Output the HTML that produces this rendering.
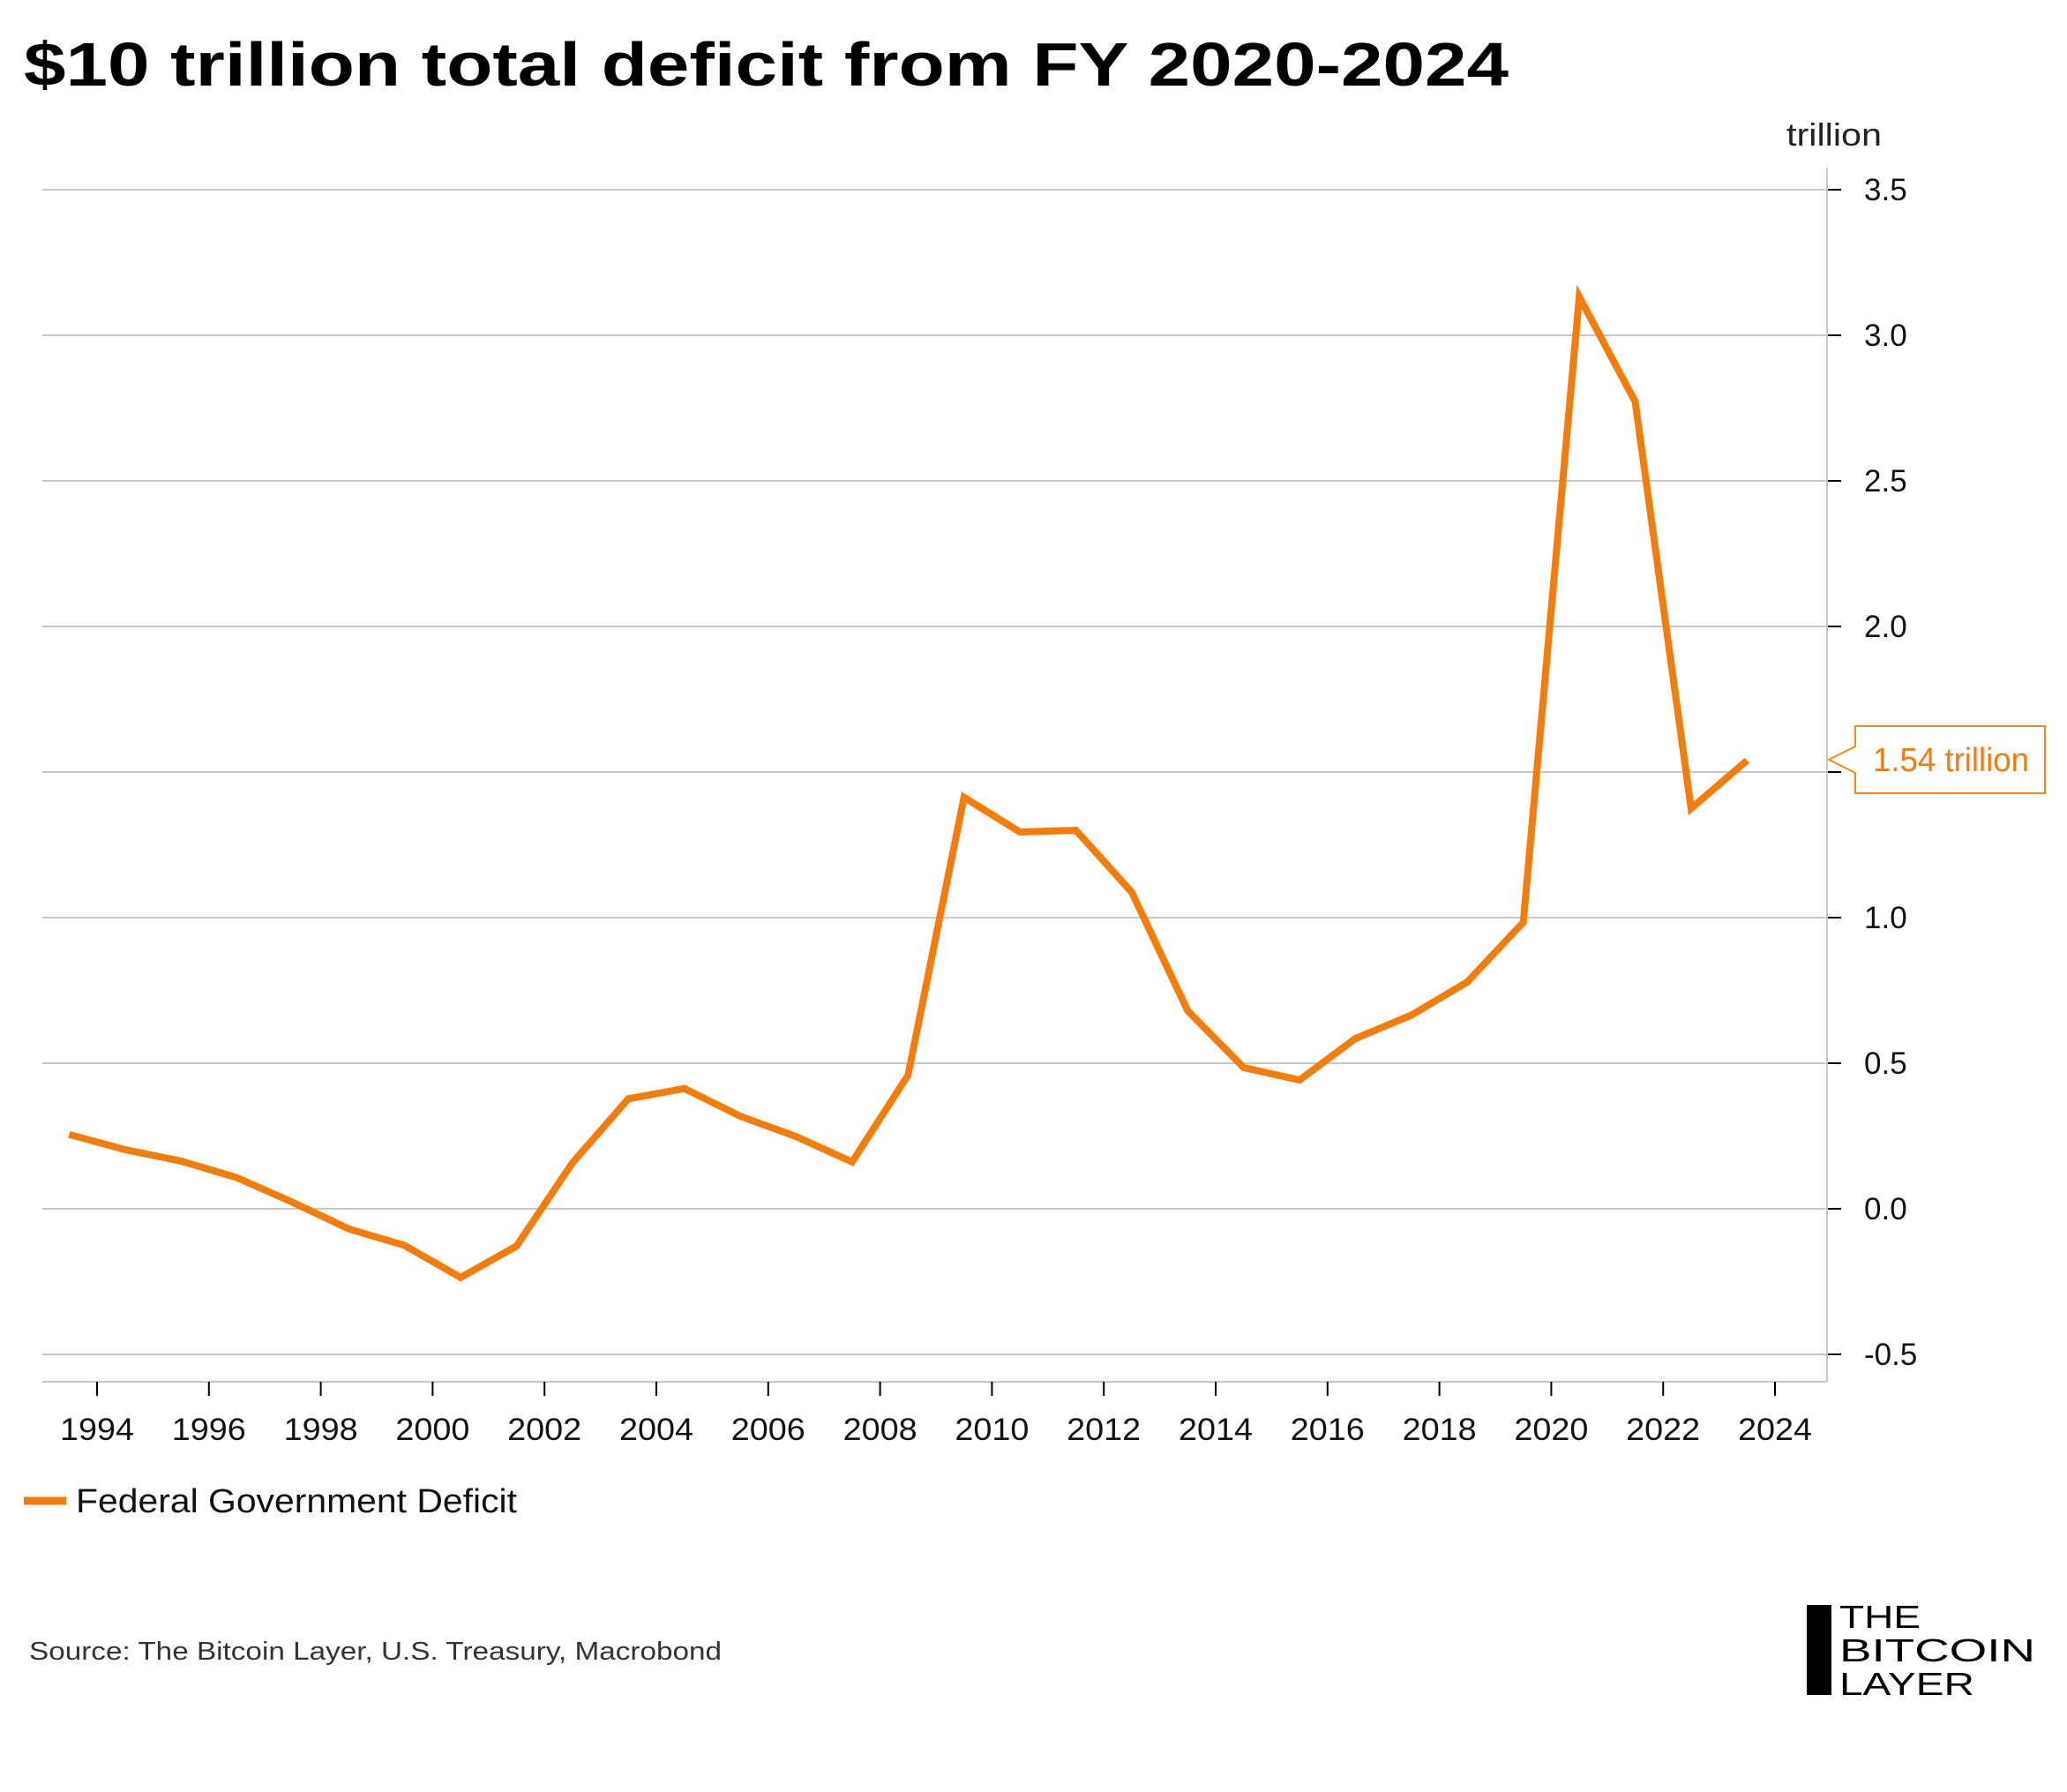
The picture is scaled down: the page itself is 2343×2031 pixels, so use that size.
<!DOCTYPE html>
<html><head><meta charset="utf-8"><style>
html,body{margin:0;padding:0;background:#fff;}
svg{display:block;font-family:"Liberation Sans",sans-serif;}
</style></head><body>
<svg id="chart" width="2343" height="2031" viewBox="0 0 2343 2031" xmlns="http://www.w3.org/2000/svg">
<text x="27" y="97" font-size="70" font-weight="bold" textLength="1683" lengthAdjust="spacingAndGlyphs">$10 trillion total deficit from FY 2020-2024</text>
<text x="2025" y="165" font-size="36" fill="#222" textLength="108" lengthAdjust="spacingAndGlyphs">trillion</text>
<g id="grid"></g>
<g id="xaxis"></g>
<g id="yaxis"></g>
<g id="series"></g>
<g>
<path d="M2103,823 L2318,823 L2318,899 L2103,899 L2103,876 L2073,861 L2103,846 Z" fill="#fff" stroke="#f28a1f" stroke-width="2"/>
<text x="2123" y="874" font-size="38" fill="#f27d0c" textLength="177" lengthAdjust="spacingAndGlyphs">1.54 trillion</text>
</g>
<g>
<line x1="27" y1="1701" x2="75" y2="1701" stroke="#f27d0c" stroke-width="9"/>
<text x="86" y="1714" font-size="38" fill="#111" textLength="500" lengthAdjust="spacingAndGlyphs">Federal Government Deficit</text>
</g>
<text x="33" y="1881" font-size="29" fill="#333" textLength="785" lengthAdjust="spacingAndGlyphs">Source: The Bitcoin Layer, U.S. Treasury, Macrobond</text>
<g>
<rect x="2048" y="1819" width="28" height="102" fill="#000"/>
<text x="2085" y="1845" font-size="36" textLength="92" lengthAdjust="spacingAndGlyphs">THE</text>
<text x="2085" y="1883" font-size="36" textLength="222" lengthAdjust="spacingAndGlyphs">BITCOIN</text>
<text x="2085" y="1921" font-size="36" textLength="153" lengthAdjust="spacingAndGlyphs">LAYER</text>
</g>
</svg>
<script>
const years = [1993.5,1994.5,1995.5,1996.5,1997.5,1998.5,1999.5,2000.5,2001.5,2002.5,2003.5,2004.5,2005.5,2006.5,2007.5,2008.5,2009.5,2010.5,2011.5,2012.5,2013.5,2014.5,2015.5,2016.5,2017.5,2018.5,2019.5,2020.5,2021.5,2022.5,2023.5];
const deficit = [0.255,0.203,0.164,0.107,0.022,-0.069,-0.126,-0.236,-0.128,0.158,0.378,0.413,0.318,0.248,0.161,0.459,1.413,1.294,1.300,1.087,0.680,0.485,0.442,0.585,0.665,0.779,0.984,3.132,2.772,1.375,1.540];
const yTicks = [-0.5,0.0,0.5,1.0,1.5,2.0,2.5,3.0,3.5];
const xTicks = [1994,1996,1998,2000,2002,2004,2006,2008,2010,2012,2014,2016,2018,2020,2022,2024];
const NS="http://www.w3.org/2000/svg";
const L=48, R=2071, B=1566, T=190;
function xs(v){return 110+(v-1994)*63.4;}
function ys(v){return 1370-v*330;}
function mk(tag,attrs,parent){const e=document.createElementNS(NS,tag);for(const k in attrs)e.setAttribute(k,attrs[k]);parent.appendChild(e);return e;}
const grid=document.getElementById('grid'),xa=document.getElementById('xaxis'),ya=document.getElementById('yaxis'),se=document.getElementById('series');
yTicks.forEach(v=>{
  const g=mk('line',{x1:L,x2:R,y1:ys(v),y2:ys(v),stroke:'#c8c8c8','stroke-width':2},grid);
  
  
  const t=mk('line',{x1:R,x2:R+16,y1:ys(v),y2:ys(v),stroke:'#000','stroke-width':2},ya);
  
  
  const lb=mk('text',{x:2113,y:ys(v)+12,'font-size':35,fill:'#111'},ya);
  lb.textContent=v.toFixed(1);
  
  
});
const yl=mk('line',{x1:R,x2:R,y1:T,y2:B,stroke:'#c8c8c8','stroke-width':2},ya);


const xl=mk('line',{x1:L,x2:R,y1:B,y2:B,stroke:'#c8c8c8','stroke-width':2},xa);


xTicks.forEach(v=>{
  const t=mk('line',{x1:xs(v),x2:xs(v),y1:B,y2:B+16,stroke:'#000','stroke-width':2},xa);
  
  
  const lb=mk('text',{x:xs(v),y:1632,'font-size':35,fill:'#111','text-anchor':'middle',textLength:84,lengthAdjust:'spacingAndGlyphs'},xa);
  lb.textContent=v;
  
  
});
const pts=years.map((y,i)=>xs(y).toFixed(1)+','+ys(deficit[i]).toFixed(1)).join(' ');
const pl=mk('polyline',{points:pts,fill:'none',stroke:'#f27d0c','stroke-width':8,'stroke-linejoin':'miter'},se);


</script>
</body></html>
